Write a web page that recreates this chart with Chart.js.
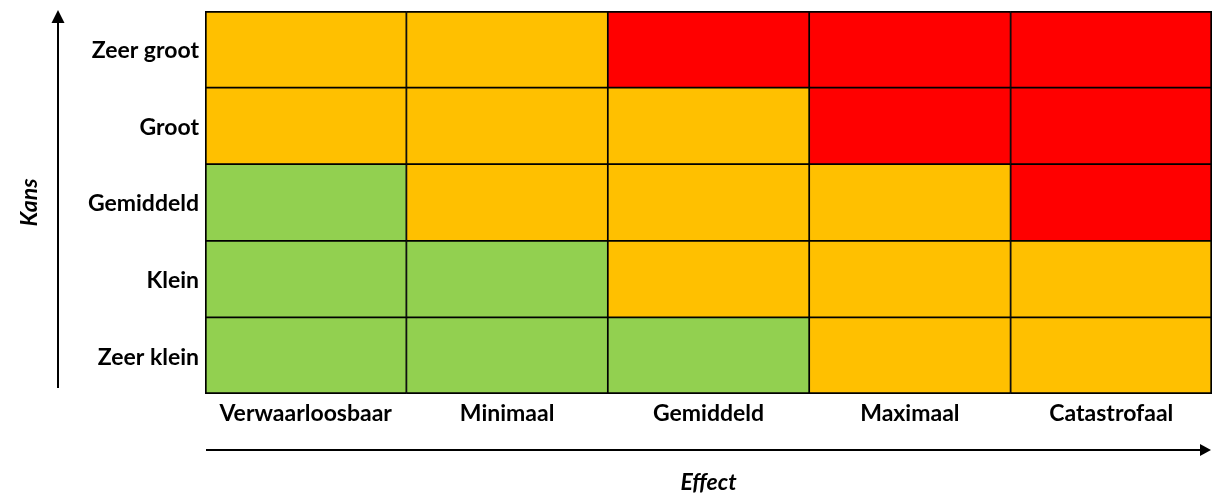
<!DOCTYPE html>
<html>
<head>
<meta charset="utf-8">
<script src="https://cdn.jsdelivr.net/npm/chart.js@4.4.1/dist/chart.umd.min.js"></script>
<style>
  html, body { margin: 0; padding: 0; background: #ffffff; }
  #wrap { width: 1212px; height: 493px; }
</style>
</head>
<body>
<div id="wrap"><canvas id="c" width="1212" height="493"></canvas></div>
<script>
// Effect categories (x axis)
const effectLabels = ['Verwaarloosbaar', 'Minimaal', 'Gemiddeld', 'Maximaal', 'Catastrofaal'];
// Kans categories (y axis), bottom to top
const kansLabels = ['Zeer klein', 'Klein', 'Gemiddeld', 'Groot', 'Zeer groot'];
// Risk level per cell (1 = laag/groen, 2 = midden/oranje, 3 = hoog/rood), per kans row
const riskZeerKlein = [1, 1, 1, 2, 2];
const riskKlein     = [1, 1, 2, 2, 2];
const riskGemiddeld = [1, 2, 2, 2, 3];
const riskGroot     = [2, 2, 2, 3, 3];
const riskZeerGroot = [2, 2, 3, 3, 3];
const riskRows = [riskZeerKlein, riskKlein, riskGemiddeld, riskGroot, riskZeerGroot];
const riskColors = { 1: '#92D050', 2: '#FFC000', 3: '#FF0000' };

const FONT = 'Lato, "DejaVu Sans", sans-serif';
const FSIZE = 23;

const datasets = riskRows.map((row, r) => ({
  label: kansLabels[r],
  data: row.map(() => [r, r + 1]),
  backgroundColor: row.map(v => riskColors[v]),
  borderColor: '#000000',
  borderSkipped: false,
  borderWidth: (ctx) => {
    const col = ctx.dataIndex;
    return {
      left: col === 0 ? 2 : 1.2,
      right: col === effectLabels.length - 1 ? 2 : 1.2,
      top: r === riskRows.length - 1 ? 2 : 1.2,
      bottom: r === 0 ? 2 : 1.2
    };
  },
  grouped: false,
  barPercentage: 1,
  categoryPercentage: 1
}));

const arrowPlugin = {
  id: 'arrows',
  afterDraw(chart) {
    const { ctx, chartArea } = chart;
    ctx.save();
    ctx.strokeStyle = '#000';
    ctx.fillStyle = '#000';
    ctx.lineWidth = 2;
    // vertical arrow (Kans)
    const ax = chartArea.left - 147;
    const yBottom = chartArea.bottom - 6;
    const yTip = chartArea.top - 1;
    ctx.beginPath();
    ctx.moveTo(ax, yBottom);
    ctx.lineTo(ax, yTip + 12);
    ctx.stroke();
    ctx.beginPath();
    ctx.moveTo(ax, yTip);
    ctx.lineTo(ax - 6.5, yTip + 13);
    ctx.lineTo(ax + 6.5, yTip + 13);
    ctx.closePath();
    ctx.fill();
    // horizontal arrow (Effect)
    const ay = chartArea.bottom + 56;
    const xStart = chartArea.left + 1;
    const xTip = chartArea.right - 1;
    ctx.beginPath();
    ctx.moveTo(xStart, ay);
    ctx.lineTo(xTip - 10, ay);
    ctx.stroke();
    ctx.beginPath();
    ctx.moveTo(xTip, ay);
    ctx.lineTo(xTip - 11, ay - 6);
    ctx.lineTo(xTip - 11, ay + 6);
    ctx.closePath();
    ctx.fill();
    ctx.restore();
  }
};

new Chart(document.getElementById('c'), {
  type: 'bar',
  data: { labels: effectLabels, datasets },
  options: {
    responsive: false,
    animation: false,
    devicePixelRatio: 1,
    layout: { padding: { top: 11, right: 0, left: 0, bottom: 0 } },
    plugins: { legend: { display: false }, tooltip: { enabled: false } },
    scales: {
      x: {
        type: 'category',
        grid: { display: false, drawTicks: false },
        border: { display: false },
        ticks: {
          color: '#000',
          padding: 6,
          font: { family: FONT, size: FSIZE, weight: 'bold' }
        },
        title: {
          display: true,
          text: 'Effect',
          color: '#000',
          padding: { top: 0, bottom: -3 },
          font: { family: FONT, size: FSIZE, weight: 'bold', style: 'italic' }
        },
        afterFit(scale) {
          scale.height = 99;
          scale.paddingLeft = 0; scale.paddingRight = 0;
        }
      },
      y: {
        type: 'linear',
        min: 0,
        max: 5,
        grid: { display: false, drawTicks: false },
        border: { display: false },
        afterBuildTicks(scale) {
          scale.ticks = kansLabels.map((_, i) => ({ value: i + 0.5 }));
        },
        ticks: {
          autoSkip: false,
          color: '#000',
          padding: 6,
          labelOffset: 1.5,
          font: { family: FONT, size: FSIZE, weight: 'bold' },
          callback: (value) => kansLabels[Math.floor(value)]
        },
        title: {
          display: true,
          text: 'Kans',
          color: '#000',
          padding: { top: 16, bottom: 0 },
          font: { family: FONT, size: FSIZE, weight: 'bold', style: 'italic' }
        },
        afterFit(scale) {
          scale.width = 205;
          scale.paddingTop = 0; scale.paddingBottom = 0;
        }
      }
    }
  },
  plugins: [arrowPlugin]
});
</script>
</body>
</html>
